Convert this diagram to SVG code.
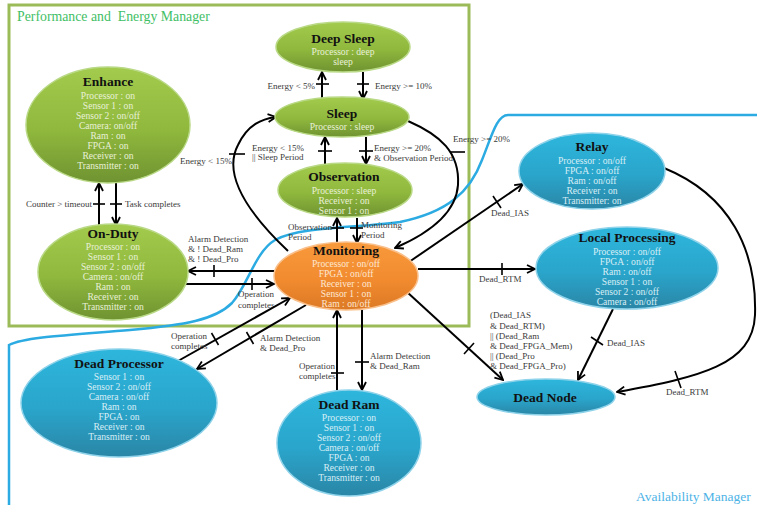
<svg xmlns="http://www.w3.org/2000/svg" width="757" height="505" viewBox="0 0 757 505">
  <defs>
    <linearGradient id="gGreen" x1="0" y1="0" x2="0" y2="1">
      <stop offset="0" stop-color="#A3CB4D"/>
      <stop offset="0.55" stop-color="#8FB83D"/>
      <stop offset="1" stop-color="#6F9331"/>
    </linearGradient>
    <linearGradient id="gBlue" x1="0" y1="0" x2="0" y2="1">
      <stop offset="0" stop-color="#2EB6DD"/>
      <stop offset="0.55" stop-color="#2AA5CB"/>
      <stop offset="1" stop-color="#2A86A6"/>
    </linearGradient>
    <linearGradient id="gOrange" x1="0" y1="0" x2="0" y2="1">
      <stop offset="0" stop-color="#F89A3C"/>
      <stop offset="0.55" stop-color="#F28B30"/>
      <stop offset="1" stop-color="#DC7925"/>
    </linearGradient>
    <marker id="arr" viewBox="0 0 10 10" refX="9" refY="5" markerWidth="10" markerHeight="10" markerUnits="userSpaceOnUse" orient="auto">
      <path d="M1,1 L9,5 L1,9" fill="none" stroke="#000" stroke-width="1.8"/>
    </marker>
  </defs>
  <style>
    .conn { fill: none; stroke: #000; stroke-width: 2; }
    .arrow { marker-end: url(#arr); }
    .tick { stroke: #000; stroke-width: 1.6; }
    .lbl { font-family: "Liberation Serif", "Times New Roman", serif; font-size: 9px; fill: #3a3a3a; }
    .ttl { font-family: "Liberation Serif", "Times New Roman", serif; font-size: 13.5px; font-weight: bold; fill: #111; text-anchor: middle; }
    .bd { font-family: "Liberation Serif", "Times New Roman", serif; font-size: 9.6px; text-anchor: middle; }
    .g .bd { fill: #E8F0D8; }
    .b .bd { fill: #D8EEF6; }
    .o .bd { fill: #FDE7D3; }
    .g ellipse { fill: url(#gGreen); stroke: #B9D986; stroke-width: 1.5; }
    .b ellipse { fill: url(#gBlue); stroke: #8FD3EA; stroke-width: 1.5; }
    .o ellipse { fill: url(#gOrange); stroke: #F9C08C; stroke-width: 1.5; }
  </style>

  <rect x="0" y="0" width="757" height="505" fill="#fff"/>

  <!-- Manager regions -->
  <g id="regions">
    <rect x="9" y="5" width="460" height="321" fill="none" stroke="#9BBB59" stroke-width="3"/>
    <text x="17" y="21" font-family="'Liberation Serif', serif" font-size="13.8" fill="#3FC066" xml:space="preserve">Performance and  Energy Manager</text>
    <path d="M757,115 L508,115 C497,115 492,135 482,160 C470,192 448,212 400,222 C360,228 300,226 275,240 C255,252 248,285 232,303 C215,320 185,325 130,330 C70,335 25,337 9,345 L9,505" fill="none" stroke="#2BABE2" stroke-width="2.5"/>
    <text x="636" y="501" font-family="'Liberation Serif', serif" font-size="13.5" fill="#4DB3E6">Availability Manager</text>
  </g>

  <!-- Connectors -->
  <g id="connectors">
    <!-- Sleep <-> Deep Sleep -->
    <line class="conn arrow" x1="322" y1="99" x2="322" y2="72"/>
    <line class="tick" x1="316" y1="84" x2="329" y2="84"/>
    <text class="lbl" x="315" y="89" text-anchor="end">Energy &lt; 5%</text>
    <line class="conn arrow" x1="363" y1="72" x2="363" y2="99"/>
    <line class="tick" x1="357" y1="84" x2="369" y2="84"/>
    <text class="lbl" x="375" y="89">Energy &gt;= 10%</text>

    <!-- Observation <-> Sleep -->
    <line class="conn arrow" x1="325" y1="164" x2="325" y2="137"/>
    <line class="tick" x1="318" y1="151" x2="332" y2="151"/>
    <text class="lbl" x="252" y="151">Energy &lt; 15%</text>
    <text class="lbl" x="252" y="160">|| Sleep Period</text>
    <line class="conn arrow" x1="366" y1="137" x2="366" y2="164"/>
    <line class="tick" x1="359" y1="151" x2="373" y2="151"/>
    <text class="lbl" x="374" y="151">Energy &gt;= 20%</text>
    <text class="lbl" x="374" y="161">&amp; Observation Period</text>

    <!-- Monitoring <-> Observation -->
    <line class="conn arrow" x1="337" y1="243" x2="337" y2="218"/>
    <line class="tick" x1="331" y1="228" x2="344" y2="228"/>
    <text class="lbl" x="288" y="230">Observation</text>
    <text class="lbl" x="288" y="240">Period</text>
    <line class="conn arrow" x1="357" y1="218" x2="357" y2="243"/>
    <line class="tick" x1="350" y1="228" x2="363" y2="228"/>
    <text class="lbl" x="361" y="228">Monitoring</text>
    <text class="lbl" x="361" y="238">Period</text>

    <!-- Monitoring -> Sleep -->
    <path class="conn arrow" d="M288,251 C250,215 222,175 238,145 C248,124 262,119 276,117"/>
    <line class="tick" x1="229" y1="154" x2="245" y2="154"/>
    <text class="lbl" x="180" y="164">Energy &lt; 15%</text>

    <!-- Sleep -> Monitoring -->
    <path class="conn arrow" d="M408,121 C440,135 460,152 458,185 C456,215 425,235 395,248"/>
    <line class="tick" x1="450" y1="152" x2="465" y2="152"/>
    <text class="lbl" x="453" y="142">Energy &gt;= 20%</text>

    <!-- On-Duty <-> Enhance -->
    <line class="conn arrow" x1="99" y1="225" x2="99" y2="183"/>
    <line class="tick" x1="93" y1="204" x2="105" y2="204"/>
    <text class="lbl" x="92" y="207" text-anchor="end">Counter &gt; timeout</text>
    <line class="conn arrow" x1="116" y1="183" x2="116" y2="225"/>
    <line class="tick" x1="110" y1="204" x2="122" y2="204"/>
    <text class="lbl" x="125" y="207">Task completes</text>

    <!-- Monitoring <-> On-Duty -->
    <line class="conn arrow" x1="274" y1="271" x2="188" y2="271"/>
    <line class="tick" x1="214" y1="265" x2="214" y2="277"/>
    <text class="lbl" x="188" y="242">Alarm Detection</text>
    <text class="lbl" x="188" y="252">&amp; ! Dead_Ram</text>
    <text class="lbl" x="188" y="262">&amp; ! Dead_Pro</text>
    <line class="conn arrow" x1="184" y1="284" x2="274" y2="284"/>
    <line class="tick" x1="252" y1="278" x2="252" y2="290"/>
    <text class="lbl" x="238" y="297">Operation</text>
    <text class="lbl" x="238" y="308">completes</text>

    <!-- Dead Processor <-> Monitoring -->
    <line class="conn arrow" x1="178" y1="361" x2="290" y2="298"/>
    <line class="tick" x1="211.5" y1="333" x2="218.5" y2="345"/>
    <text class="lbl" x="171" y="339">Operation</text>
    <text class="lbl" x="171" y="349">completes</text>
    <line class="conn arrow" x1="306" y1="305" x2="197" y2="369"/>
    <line class="tick" x1="246.5" y1="332" x2="253.5" y2="344"/>
    <text class="lbl" x="260" y="341">Alarm Detection</text>
    <text class="lbl" x="260" y="351">&amp; Dead_Pro</text>

    <!-- Dead Ram <-> Monitoring -->
    <line class="conn arrow" x1="337" y1="390" x2="337" y2="310"/>
    <line class="tick" x1="331" y1="373" x2="344" y2="373"/>
    <text class="lbl" x="299" y="369">Operation</text>
    <text class="lbl" x="299" y="379">completes</text>
    <line class="conn arrow" x1="362" y1="310" x2="362" y2="390"/>
    <line class="tick" x1="355" y1="362" x2="369" y2="362"/>
    <text class="lbl" x="370" y="359">Alarm Detection</text>
    <text class="lbl" x="370" y="369">&amp; Dead_Ram</text>

    <!-- Monitoring -> Relay -->
    <line class="conn arrow" x1="409" y1="262" x2="523" y2="184"/>
    <line class="tick" x1="493" y1="196" x2="501" y2="208"/>
    <text class="lbl" x="491" y="216">Dead_IAS</text>

    <!-- Monitoring -> Local Processing -->
    <line class="conn arrow" x1="418" y1="269" x2="535" y2="269"/>
    <line class="tick" x1="502" y1="263" x2="502" y2="275"/>
    <text class="lbl" x="479" y="282">Dead_RTM</text>

    <!-- Monitoring -> Dead Node -->
    <line class="conn arrow" x1="407" y1="292" x2="503" y2="380"/>
    <line class="tick" x1="474" y1="343" x2="464" y2="354"/>
    <text class="lbl" x="490" y="318">(Dead_IAS</text>
    <text class="lbl" x="490" y="329">&amp; Dead_RTM)</text>
    <text class="lbl" x="490" y="339">|| (Dead_Ram</text>
    <text class="lbl" x="490" y="349">&amp; Dead_FPGA_Mem)</text>
    <text class="lbl" x="490" y="359">|| (Dead_Pro</text>
    <text class="lbl" x="490" y="369">&amp; Dead_FPGA_Pro)</text>

    <!-- Local Processing -> Dead Node -->
    <line class="conn arrow" x1="613" y1="309" x2="578" y2="380"/>
    <line class="tick" x1="591" y1="337" x2="603" y2="345"/>
    <text class="lbl" x="607" y="346">Dead_IAS</text>

    <!-- Relay -> Dead Node -->
    <path class="conn arrow" d="M664,168 C730,195 757,250 755,315 C753,365 700,377 617,392"/>
    <line class="tick" x1="675" y1="371" x2="681" y2="388"/>
    <text class="lbl" x="666" y="395">Dead_RTM</text>
  </g>

  <!-- Performance and energy states -->
  <g id="deep-sleep" class="g">
    <ellipse cx="343" cy="47" rx="67" ry="25"/>
    <text class="ttl" x="343" y="42.5">Deep Sleep</text>
    <text class="bd" x="343" y="54.5">Processor : deep</text>
    <text class="bd" x="343" y="64.5">sleep</text>
  </g>
  <g id="sleep" class="g">
    <ellipse cx="342" cy="117" rx="67" ry="20"/>
    <text class="ttl" x="342" y="117.5">Sleep</text>
    <text class="bd" x="342" y="130">Processor : sleep</text>
  </g>
  <g id="observation" class="g">
    <ellipse cx="345" cy="190" rx="67" ry="27"/>
    <text class="ttl" x="344" y="181">Observation</text>
    <text class="bd" x="344" y="193.5">Processor : sleep</text>
    <text class="bd" x="344" y="203.5">Receiver : on</text>
    <text class="bd" x="344" y="213.5">Sensor 1 : on</text>
  </g>
  <g id="enhance" class="g">
    <ellipse cx="108" cy="125" rx="82" ry="58"/>
    <text class="ttl" x="108" y="86">Enhance</text>
    <text class="bd" x="108" y="98.5">Processor : on</text>
    <text class="bd" x="108" y="108.5">Sensor 1 : on</text>
    <text class="bd" x="108" y="118.5">Sensor 2 : on/off</text>
    <text class="bd" x="108" y="128.5">Camera: on/off</text>
    <text class="bd" x="108" y="138.5">Ram : on</text>
    <text class="bd" x="108" y="148.5">FPGA : on</text>
    <text class="bd" x="108" y="158.5">Receiver : on</text>
    <text class="bd" x="108" y="168.5">Transmitter : on</text>
  </g>
  <g id="on-duty" class="g">
    <ellipse cx="113" cy="272" rx="75" ry="48"/>
    <text class="ttl" x="113" y="237.5">On-Duty</text>
    <text class="bd" x="113" y="250">Processor : on</text>
    <text class="bd" x="113" y="260">Sensor 1 : on</text>
    <text class="bd" x="113" y="270">Sensor 2 : on/off</text>
    <text class="bd" x="113" y="280">Camera : on/off</text>
    <text class="bd" x="113" y="290">Ram : on</text>
    <text class="bd" x="113" y="300">Receiver : on</text>
    <text class="bd" x="113" y="310">Transmitter : on</text>
  </g>
  <g id="monitoring" class="o">
    <ellipse cx="346" cy="276" rx="72" ry="34"/>
    <text class="ttl" x="346" y="254.5">Monitoring</text>
    <text class="bd" x="346" y="266.5">Processor : on/off</text>
    <text class="bd" x="346" y="276.5">FPGA : on/off</text>
    <text class="bd" x="346" y="286.5">Receiver : on</text>
    <text class="bd" x="346" y="296.5">Sensor 1 : on</text>
    <text class="bd" x="346" y="306.5">Ram : on/off</text>
  </g>

  <!-- Availability states -->
  <g id="relay" class="b">
    <ellipse cx="592" cy="171" rx="73" ry="38"/>
    <text class="ttl" x="592" y="151">Relay</text>
    <text class="bd" x="592" y="163.5">Processor : on/off</text>
    <text class="bd" x="592" y="173.5">FPGA : on/off</text>
    <text class="bd" x="592" y="183.5">Ram : on/off</text>
    <text class="bd" x="592" y="193.5">Receiver : on</text>
    <text class="bd" x="592" y="203.5">Transmitter: on</text>
  </g>
  <g id="local-processing" class="b">
    <ellipse cx="627" cy="268" rx="91" ry="41"/>
    <text class="ttl" x="627" y="241.5">Local Processing</text>
    <text class="bd" x="627" y="254.5">Processor : on/off</text>
    <text class="bd" x="627" y="264.5">FPGA : on/off</text>
    <text class="bd" x="627" y="274.5">Ram : on/off</text>
    <text class="bd" x="627" y="284.5">Sensor 1 : on</text>
    <text class="bd" x="627" y="294.5">Sensor 2 : on/off</text>
    <text class="bd" x="627" y="304.5">Camera : on/off</text>
  </g>
  <g id="dead-processor" class="b">
    <ellipse cx="119" cy="403" rx="98" ry="54"/>
    <text class="ttl" x="119" y="367.5">Dead Processor</text>
    <text class="bd" x="119" y="380">Sensor 1 : on</text>
    <text class="bd" x="119" y="390">Sensor 2 : on/off</text>
    <text class="bd" x="119" y="400">Camera : on/off</text>
    <text class="bd" x="119" y="410">Ram : on</text>
    <text class="bd" x="119" y="420">FPGA : on</text>
    <text class="bd" x="119" y="430">Receiver : on</text>
    <text class="bd" x="119" y="440">Transmitter : on</text>
  </g>
  <g id="dead-ram" class="b">
    <ellipse cx="349" cy="443" rx="72" ry="53"/>
    <text class="ttl" x="349" y="408.5">Dead Ram</text>
    <text class="bd" x="349" y="421">Processor : on</text>
    <text class="bd" x="349" y="431">Sensor 1 : on</text>
    <text class="bd" x="349" y="441">Sensor 2 : on/off</text>
    <text class="bd" x="349" y="451">Camera : on/off</text>
    <text class="bd" x="349" y="461">FPGA : on</text>
    <text class="bd" x="349" y="471">Receiver : on</text>
    <text class="bd" x="349" y="481">Transmitter : on</text>
  </g>
  <g id="dead-node" class="b">
    <ellipse cx="546" cy="397" rx="69" ry="18"/>
    <text class="ttl" x="545" y="402">Dead Node</text>
  </g>
</svg>
